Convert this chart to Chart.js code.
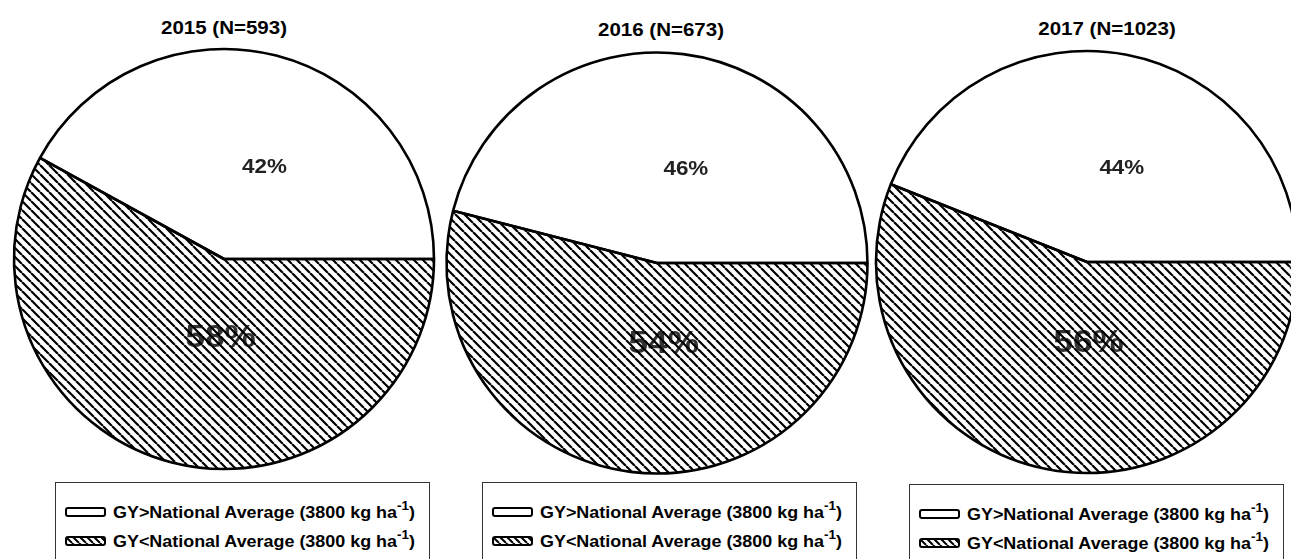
<!DOCTYPE html>
<html>
<head>
<meta charset="utf-8">
<script src="https://cdn.jsdelivr.net/npm/chart.js@4"></script>
<style>
  body { margin: 0; width: 1291px; height: 559px; overflow: hidden; background: #fff; position: relative; font-family: "Liberation Sans", Arial, sans-serif; }
  .pie { position: absolute; }
  .title { position: absolute; font-weight: bold; font-size: 18px; line-height: 18px; white-space: nowrap; color: #000; transform: translateX(-50%) scaleX(1.14); }
  .legend { position: absolute; width: 373px; height: 120px; border: 1px solid #333; background: #fff; }
  .legend-row { position: absolute; left: 0; height: 16px; width: 100%; }
  .legend-row canvas { position: absolute; left: 9px; top: 2px; }
  .legend-label { position: absolute; left: 57px; top: 0; font-weight: bold; font-size: 16px; line-height: 16px; white-space: nowrap; color: #000; transform: scaleX(1.12); transform-origin: left center; }
  .legend-label sup { font-size: 12px; line-height: 0; position: relative; top: -2px; }
</style>
</head>
<body>
<script>
const years = ['2015', '2016', '2017'];
const sampleSizes = [593, 673, 1023];
const categories = ['GY>National Average', 'GY<National Average'];
const thresholdText = '(3800 kg ha';
const thresholdExp = '-1';
const aboveAverage = [42, 46, 44];
const belowAverage = [58, 54, 56];

// placement of each panel (pie centre, radius, title, legend box)
const panels = [
    { cx: 224, cy: 259, r: 210, titleX: 224, titleY: 18.5, legendX: 55, legendY: 482 },
    { cx: 656.5, cy: 263, r: 210.5, titleX: 660.5, titleY: 20.5, legendX: 482, legendY: 482 },
    { cx: 1087, cy: 262, r: 211, titleX: 1106.5, titleY: 19.5, legendX: 909, legendY: 484 }
];

function makeHatch(spacing, width) {
    const tile = document.createElement('canvas');
    tile.width = spacing;
    tile.height = spacing;
    const g = tile.getContext('2d');
    g.strokeStyle = '#000';
    g.lineWidth = width;
    g.beginPath();
    for (const k of [-spacing, 0, spacing]) {
        g.moveTo(k, 0);
        g.lineTo(k + spacing, spacing);
    }
    g.stroke();
    return g.createPattern(tile, 'repeat');
}

// percent labels: hatched one goes under the hatch lines, white one on top
function drawLabels(chart, under) {
    const ctx = chart.ctx;
    const meta = chart.getDatasetMeta(0);
    const values = chart.data.datasets[0].data;
    meta.data.forEach((arc, i) => {
        const hatched = i === 1;
        if (hatched !== under) return;
        const p = arc.getProps(['x', 'y', 'startAngle', 'endAngle', 'outerRadius'], true);
        const mid = (p.startAngle + p.endAngle) / 2;
        const frac = hatched ? 0.39 : 0.45;
        const lx = p.x + Math.cos(mid) * p.outerRadius * frac + 17;
        const ly = p.y + Math.sin(mid) * p.outerRadius * frac;
        ctx.save();
        ctx.translate(lx, ly);
        ctx.scale(hatched ? 1.1 : 1.12, 1);
        ctx.font = hatched ? 'bold 32px "Liberation Sans", Arial, sans-serif' : 'bold 20px "Liberation Sans", Arial, sans-serif';
        ctx.fillStyle = hatched ? '#333' : '#222';
        ctx.textAlign = 'center';
        ctx.textBaseline = 'middle';
        ctx.fillText(values[i] + '%', 0, 0);
        ctx.restore();
    });
}

const pctLabels = {
    id: 'pctLabels',
    beforeDatasetsDraw(chart) { drawLabels(chart, true); },
    afterDatasetsDraw(chart) { drawLabels(chart, false); }
};

function drawSwatch(canvas, hatched) {
    const g = canvas.getContext('2d');
    g.beginPath();
    g.roundRect(1, 1, 39, 8, 2);
    g.fillStyle = hatched ? makeHatch(7, 2) : '#fff';
    g.fill();
    g.lineWidth = 2;
    g.strokeStyle = '#000';
    g.stroke();
}

const hatch = makeHatch(9, 2.2);
const SIZE = 440;

years.forEach((year, idx) => {
    const pos = panels[idx];

    const title = document.createElement('div');
    title.className = 'title';
    title.style.left = pos.titleX + 'px';
    title.style.top = pos.titleY + 'px';
    title.textContent = year + ' (N=' + sampleSizes[idx] + ')';
    document.body.appendChild(title);

    const canvas = document.createElement('canvas');
    canvas.className = 'pie';
    canvas.width = SIZE;
    canvas.height = SIZE;
    canvas.style.left = (pos.cx - SIZE / 2) + 'px';
    canvas.style.top = (pos.cy - SIZE / 2) + 'px';
    document.body.appendChild(canvas);

    new Chart(canvas.getContext('2d'), {
        type: 'pie',
        data: {
            labels: categories,
            datasets: [{
                data: [aboveAverage[idx], belowAverage[idx]],
                backgroundColor: ['#ffffff', hatch],
                borderColor: '#000',
                borderWidth: 2.6
            }]
        },
        options: {
            responsive: false,
            animation: false,
            events: [],
            radius: pos.r,
            // white slice ends at 3 o'clock, drawn clockwise
            rotation: 90 - 360 * aboveAverage[idx] / (aboveAverage[idx] + belowAverage[idx]),
            layout: { padding: 0 },
            plugins: {
                legend: { display: false },
                tooltip: { enabled: false }
            }
        },
        plugins: [pctLabels]
    });

    // legend box
    const legend = document.createElement('div');
    legend.className = 'legend';
    legend.style.left = pos.legendX + 'px';
    legend.style.top = pos.legendY + 'px';
    categories.forEach((cat, i) => {
        const row = document.createElement('div');
        row.className = 'legend-row';
        row.style.top = (i === 0 ? 22 : 51) + 'px';
        const sw = document.createElement('canvas');
        sw.width = 42;
        sw.height = 10;
        drawSwatch(sw, i === 1);
        row.appendChild(sw);
        const label = document.createElement('span');
        label.className = 'legend-label';
        label.textContent = cat + ' ' + thresholdText;
        const sup = document.createElement('sup');
        sup.textContent = thresholdExp;
        label.appendChild(sup);
        label.appendChild(document.createTextNode(')'));
        row.appendChild(label);
        legend.appendChild(row);
    });
    document.body.appendChild(legend);
});
</script>
</body>
</html>
